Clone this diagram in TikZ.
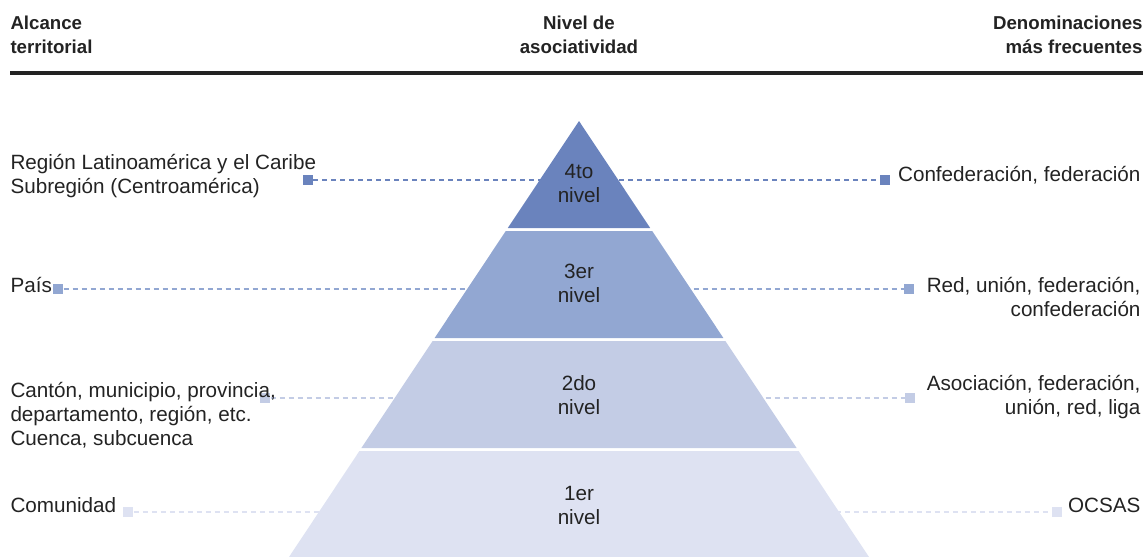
\documentclass[tikz,border=0pt]{standalone}
\usepackage{fontspec}
\setmainfont{Liberation Sans}

\definecolor{nivelCuatro}{RGB}{106,131,189}
\definecolor{nivelTres}{RGB}{146,167,210}
\definecolor{nivelDos}{RGB}{195,204,229}
\definecolor{nivelUno}{RGB}{222,226,242}
\definecolor{tinta}{RGB}{35,35,35}

\tikzset{every picture/.style={line width=0.75pt}}
\tikzset{
  marca/.style={rectangle,inner sep=0pt,minimum size=7.5pt,fill=#1},
  guia/.style={draw=#1,dash pattern=on 3.75pt off 3pt,line width=1.1pt},
  rotulo/.style={inner sep=0pt,font=\fontsize{15.5}{18}\selectfont,text=tinta},
  titulo/.style={inner sep=0pt,font=\fontsize{14}{18}\selectfont\bfseries,text=tinta},
}

\begin{document}
\begin{tikzpicture}[x=0.75pt,y=0.75pt,yscale=-1,xscale=1]
%set diagram left start at 0, and has height of 557
\useasboundingbox (0,0) rectangle (1147,557);
% Text Node
\draw (10,53) node [anchor=base west][titulo][align=left] (alcance) {Alcance\\territorial};
% Text Node
\draw (579,53) node [anchor=base][titulo][align=center] (nivel) {Nivel de\\asociatividad};
% Text Node
\draw (1143,53) node [anchor=base east][titulo][align=right] (denom) {Denominaciones\\más frecuentes};
%Straight Lines
\draw [color=tinta][line width=2.6pt] (10,73) -- (1143,73) ;

%Markers
\draw (307.5,180) node [marca=nivelCuatro] (m4i) {};
\draw (885,180) node [marca=nivelCuatro] (m4d) {};
\draw (58,289) node [marca=nivelTres] (m3i) {};
\draw (909,289) node [marca=nivelTres] (m3d) {};
\draw (265,398) node [marca=nivelDos] (m2i) {};
\draw (910,398) node [marca=nivelDos] (m2d) {};
\draw (128,512) node [marca=nivelUno] (m1i) {};
\draw (1057,512) node [marca=nivelUno] (m1d) {};
%Dashed Lines
\draw [guia=nivelCuatro] (m4i) -- (m4d) ;
\draw [guia=nivelTres] (m3i) -- (m3d) ;
\draw [guia=nivelDos] (m2i) -- (m2d) ;
\draw [guia=nivelUno] (m1i) -- (m1d) ;

%Shape: Triangle
\fill [nivelCuatro] (579,121) -- (650.2,228) -- (507.8,228) -- cycle ;
%Shape: Trapezoid
\fill [nivelTres] (505.8,231) -- (652.2,231) -- (723.4,338) -- (434.6,338) -- cycle ;
%Shape: Trapezoid
\fill [nivelDos] (432.6,341) -- (725.4,341) -- (796.6,448) -- (361.4,448) -- cycle ;
%Shape: Trapezoid
\fill [nivelUno] (359.4,451) -- (798.6,451) -- (869,557) -- (289,557) -- cycle ;

% Text Node
\draw (579,202) node [anchor=base][rotulo][align=center] (n4) {4to\\nivel};
% Text Node
\draw (579,302) node [anchor=base][rotulo][align=center] (n3) {3er\\nivel};
% Text Node
\draw (579,414) node [anchor=base][rotulo][align=center] (n2) {2do\\nivel};
% Text Node
\draw (579,524) node [anchor=base][rotulo][align=center] (n1) {1er\\nivel};

% Text Node
\draw (10,193) node [anchor=base west][rotulo][align=left] (t4i) {Región Latinoamérica y el Caribe\\Subregión (Centroamérica)};
% Text Node
\draw (10,292) node [anchor=base west][rotulo] (t3i) {País};
% Text Node
\draw (10,445) node [anchor=base west][rotulo][align=left] (t2i) {Cantón, municipio, provincia,\\departamento, región, etc.\\Cuenca, subcuenca};
% Text Node
\draw (10,512) node [anchor=base west][rotulo] (t1i) {Comunidad};
% Text Node
\draw (1141,181) node [anchor=base east][rotulo] (t4d) {Confederación, federación};
% Text Node
\draw (1141,316) node [anchor=base east][rotulo][align=right] (t3d) {Red, unión, federación,\\confederación};
% Text Node
\draw (1141,414) node [anchor=base east][rotulo][align=right] (t2d) {Asociación, federación,\\unión, red, liga};
% Text Node
\draw (1141,512) node [anchor=base east][rotulo] (t1d) {OCSAS};
\end{tikzpicture}
\end{document}
